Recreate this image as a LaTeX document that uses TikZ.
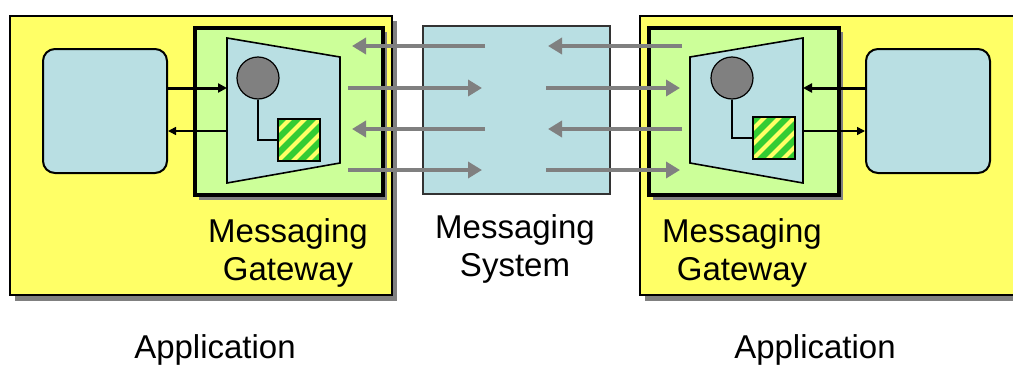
\documentclass[tikz,border=0pt]{standalone}
\usepackage{fontspec}
\setmainfont{Liberation Sans}
\usetikzlibrary{arrows.meta,positioning}
\definecolor{appY}{RGB}{255,255,102}
\definecolor{gwG}{RGB}{204,255,153}
\definecolor{msgB}{RGB}{185,223,227}
\definecolor{shadG}{RGB}{128,128,128}
\definecolor{hatchG}{RGB}{51,204,51}

\begin{document}
\begin{tikzpicture}[x=1pt,y=-1pt,
  appbox/.style={draw=black,line width=2pt,fill=appY,inner sep=0pt,anchor=north west},
  ownbox/.style={draw=black,line width=2pt,fill=msgB,rounded corners=12pt,inner sep=0pt,anchor=north west,minimum width=124pt,minimum height=124pt},
  gwbox/.style={draw=black,line width=3.5pt,fill=gwG,inner sep=0pt,anchor=north west,minimum width=188pt,minimum height=167pt},
  trap/.style={draw=black,line width=1.6pt,fill=msgB},
  knob/.style={circle,draw=black,line width=1.2pt,fill=shadG,minimum size=42pt,inner sep=0pt},
  hatch/.style={draw=black,line width=1.6pt,fill=hatchG,minimum size=42pt,inner sep=0pt,
    path picture={\foreach \k in {-3,...,3}
      \draw[appY,line width=4pt] ([xshift=\k*15pt-32pt,yshift=-32pt]path picture bounding box.center) -- ++(64pt,64pt);}},
  callin/.style={line width=3pt,-{Triangle[length=9pt,width=9pt]}},
  callout/.style={line width=1.6pt,-{Triangle[length=8pt,width=8pt]}},
  flow/.style={draw=shadG,line width=4pt,-{Triangle[length=14pt,width=16pt]}},
  lbl/.style={font=\fontsize{33}{38}\selectfont,align=center,inner sep=0pt}]
\useasboundingbox (0,0) rectangle (1013,367);
% left application with its gateway
\fill[shadG] (15,21) rectangle (397,301);
\node[appbox,minimum width=382pt,minimum height=279pt] (appL) at (9,15) {};
\node[ownbox] (ownL) at (42,48) {};
\fill[shadG] (199,32) rectangle (387,200);
\node[gwbox] (gwL) at (193,26) {};
\draw[trap] (227,38) -- (340,57) -- (340,163) -- (227,183) -- cycle;
\node[knob] (knobL) at (258,78) {};
\node[hatch] (hatchL) at (299,140) {};
\draw[line width=1.4pt] (knobL.south) |- (hatchL.west);
\coordinate (inL) at (227,88);
\coordinate (outL) at (227,131);
\draw[callin] (ownL.east |- inL) -- (inL);
\draw[callout] (outL) -- (ownL.east |- outL);
\node[lbl,anchor=north] (gwLlbl) at (288,218) {Messaging\\Gateway};
% messaging system
\node[draw=black!80,line width=1.5pt,fill=msgB,inner sep=0pt,anchor=north west,
  minimum width=187pt,minimum height=168pt] (msg) at (422,25) {};
\node[lbl,anchor=north] (msglbl) at (515,214) {Messaging\\System};
% right application with its gateway
\fill[shadG] (645,21) rectangle (1030,301);
\node[appbox,minimum width=390pt,minimum height=279pt] (appR) at (639,15) {};
\node[ownbox] (ownR) at (865,48) {};
\fill[shadG] (653,32) rectangle (843,200);
\node[gwbox,minimum width=190pt] (gwR) at (647,26) {};
\draw[trap] (690,57) -- (803,38) -- (803,183) -- (690,163) -- cycle;
\node[knob] (knobR) at (732,78) {};
\node[hatch] (hatchR) at (774,138) {};
\draw[line width=1.4pt] (knobR.south) |- (hatchR.west);
\coordinate (inR) at (803,88);
\coordinate (outR) at (803,131);
\draw[callin] (ownR.west |- inR) -- (inR);
\draw[callout] (outR) -- (ownR.west |- outR);
\node[lbl,anchor=north] (gwRlbl) at (742,218) {Messaging\\Gateway};
% channels
\foreach \y in {46,129} {
  \draw[flow] (485,\y) -- (352,\y);
  \draw[flow] (682,\y) -- (548,\y);
}
\foreach \y in {88,170} {
  \draw[flow] (348,\y) -- (482,\y);
  \draw[flow] (546,\y) -- (680,\y);
}
\node[lbl,anchor=north] (appLlbl) at (215,334) {Application};
\node[lbl,anchor=north] (appRlbl) at (815,334) {Application};
\end{tikzpicture}
\end{document}
